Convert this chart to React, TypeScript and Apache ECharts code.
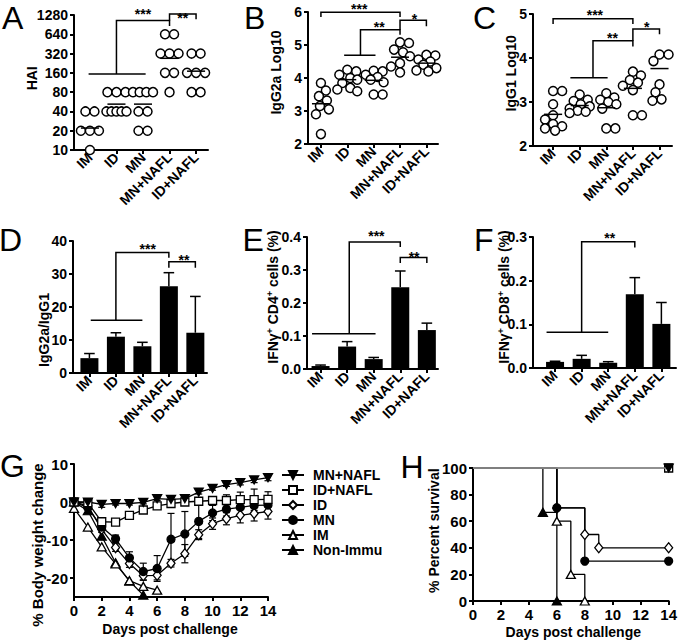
import React, { useEffect, useRef } from 'react';
import * as echarts from 'echarts';

const FONT = '"Liberation Sans", Arial, Helvetica, sans-serif';
const groups = ['IM', 'ID', 'MN', 'MN+NAFL', 'ID+NAFL'];

// ---------- Panel A: HAI titres ----------
const haiIM = [40, 40, 20, 20, 20, 10];
const haiID = [80, 80, 80, 40, 40, 40, 40, 40];
const haiMN = [80, 80, 80, 80, 40, 40, 20, 20];
const haiMNNAFL = [640, 640, 320, 320, 320, 160, 160, 80];
const haiIDNAFL = [320, 320, 160, 160, 160, 80, 80];
const haiMeans = [22, 52, 52, 270, 170];
const haiTicks = [10, 20, 40, 80, 160, 320, 640, 1280];

// ---------- Panel B: IgG2a log10 ----------
const igg2aIM = [3.85, 3.62, 3.45, 3.32, 3.15, 3.05, 2.9, 2.3];
const igg2aID = [4.25, 4.2, 4.1, 4.0, 3.95, 3.85, 3.7, 3.65, 3.6];
const igg2aMN = [4.22, 4.2, 4.1, 4.03, 3.95, 3.87, 3.5, 3.5];
const igg2aMNNAFL = [5.08, 5.06, 4.86, 4.78, 4.66, 4.45, 4.35, 4.17];
const igg2aIDNAFL = [4.7, 4.68, 4.56, 4.5, 4.4, 4.3, 4.23, 4.2];
const igg2aMeans = [3.22, 3.95, 3.93, 4.63, 4.45];

// ---------- Panel C: IgG1 log10 ----------
const igg1IM = [3.25, 3.25, 2.95, 2.7, 2.6, 2.5, 2.45, 2.4, 2.35];
const igg1ID = [3.17, 3.05, 3.02, 2.95, 2.9, 2.85, 2.8, 2.78, 2.75];
const igg1MN = [3.2, 3.1, 3.05, 3.0, 2.95, 2.85, 2.4, 2.4];
const igg1MNNAFL = [3.69, 3.6, 3.5, 3.44, 3.37, 3.27, 2.7, 2.7];
const igg1IDNAFL = [4.08, 4.08, 3.93, 3.4, 3.22, 3.06, 3.03];
const igg1Means = [2.72, 2.92, 2.87, 3.31, 3.76];

// ---------- Panel D: IgG2a/IgG1 ----------
const ratioMean = [4.5, 11, 8.1, 26.3, 12.2];
const ratioSem = [1.4, 1.2, 1.2, 4.1, 11];

// ---------- Panel E: IFNg+ CD4+ ----------
const cd4Mean = [0.009, 0.068, 0.03, 0.248, 0.118];
const cd4Sem = [0.003, 0.015, 0.005, 0.049, 0.021];

// ---------- Panel F: IFNg+ CD8+ ----------
const cd8Mean = [0.014, 0.021, 0.012, 0.169, 0.101];
const cd8Sem = [0.0015, 0.008, 0.0025, 0.038, 0.049];

// ---------- Panel G: body weight ----------
const gMNNAFL = [0, 0, -0.6, -0.4, -0.4, -0.1, 0.9, 0.7, 0.9, 2.6, 3.6, 4.6, 5.1, 5.8, 6.4];
const gMNNAFLerr = [0, 0.3, 0.8, 0.4, 0.4, 0.4, 0.5, 0.5, 0.5, 0.5, 0.5, 0.5, 0.6, 0.7, 0.8];
const gIDNAFL = [0, -0.2, -5.2, -5.3, -3.5, -2.1, -1.0, -0.4, 0, 0.2, 0.4, 0.4, 0.6, 0.6, 0.7];
const gIDNAFLerr = [0, 0.3, 0.6, 0.6, 0.6, 0.5, 0.5, 0.5, 0.5, 0.6, 0.8, 1.5, 2.0, 2.8, 2.0];
const gID = [0, -1.0, -7.2, -12.0, -16.2, -19.4, -19.3, -16.1, -13.6, -8.6, -5.7, -4.4, -3.5, -3.0, -2.5];
const gIDerr = [0, 0.5, 0.8, 1, 1, 1.2, 1.2, 1.0, 2.4, 1.3, 1.5, 1.6, 2.0, 2.0, 2.0];
const gMN = [0, -1.5, -6.6, -9.7, -14.7, -18.3, -17.5, -9.8, -8.4, -5.1, -2.9, -1.9, -1.4, -0.9, -0.8];
const gMNerr = [0, 0.5, 0.8, 1, 1.6, 2.2, 3.4, 6.8, 5.9, 4.5, 2.0, 1.8, 1.8, 1.8, 1.8];
const gIM = [-1.7, -6.6, -11.8, -16.3, -20.7, -22.2, -23.2];
const gNonImmu = [0, -2.3, -9.0, -16.0, -20.8, -24.5];

// ---------- Panel H: survival ----------
const hNonImmuDays = [0, 5, 6];
const hNonImmuPct = [100, 66.7, 0];
const hIMDays = [0, 6, 7, 8];
const hIMPct = [100, 60, 20, 0];
const hMNDays = [0, 6, 8, 14];
const hMNPct = [100, 70, 30, 30];
const hIDDays = [0, 6, 8, 9, 14];
const hIDPct = [100, 70, 50, 40, 40];
const hNAFLDays = [0, 14];
const hNAFLPct = [100, 100];

// ---------- annotations (category units, axis values) ----------
const bracketsA = [
  [[-0.05, 153], [2.1, 153]],
  [[1, 153], [1, 1050], [3, 1050], [3, 860]],
  [[3, 1050], [3, 1330], [4, 1330], [4, 1100]],
];
const starPosA = [[2.0, 1490], [3.5, 1280]];
const starTxtA = ['***', '**'];

const bracketsB = [
  [[0, 5.85], [0, 5.99], [3, 5.99], [3, 5.85]],
  [[0.88, 4.69], [2.07, 4.69]],
  [[1.5, 4.69], [1.5, 5.46], [3, 5.46], [3, 5.31]],
  [[3, 5.46], [3, 5.75], [4, 5.75], [4, 5.57]],
];
const starPosB = [[1.45, 6.17], [2.21, 5.63], [3.55, 5.89]];
const starTxtB = ['***', '**', '*'];

const bracketsC = [
  [[0, 4.77], [0, 4.89], [3, 4.89], [3, 4.77]],
  [[0.65, 3.55], [2.05, 3.55]],
  [[1.5, 3.55], [1.5, 4.39], [3, 4.39], [3, 4.26]],
  [[3, 4.39], [3, 4.66], [4, 4.66], [4, 4.54]],
];
const starPosC = [[1.57, 5.05], [2.23, 4.52], [3.52, 4.78]];
const starTxtC = ['***', '**', '*'];

const bracketsD = [
  [[0.05, 16], [2.0, 16]],
  [[1, 16], [1, 36.5], [3, 36.5], [3, 34.9]],
  [[3, 31.9], [3, 33.7], [4, 33.7], [4, 31.9]],
];
const starPosD = [[2.2, 38.6], [3.57, 35.3]];
const starTxtD = ['***', '**'];

const bracketsE = [
  [[-0.32, 0.107], [2.07, 0.107]],
  [[1.08, 0.107], [1.08, 0.385], [3, 0.385], [3, 0.37]],
  [[3, 0.321], [3, 0.338], [4, 0.338], [4, 0.321]],
];
const starPosE = [[2.1, 0.412], [3.52, 0.35]];
const starTxtE = ['***', '**'];

const bracketsF = [
  [[-0.32, 0.082], [2.0, 0.082]],
  [[1, 0.082], [1, 0.289], [3, 0.289], [3, 0.276]],
];
const starPosF = [[2.06, 0.305]];
const starTxtF = ['**'];

// ---------- layout ----------
const BAND = 26.5;
const STAR_SHIFT = 3; // asterisks sit high in the em box
const LAYOUT = [
  { left: 74, top: 15, width: 134, height: 135, xmin: -0.6, xmax: 4.45, ymin: 0, ymax: 7 },
  { left: 308, top: 12, width: 130, height: 132, xmin: -0.49, xmax: 4.44, ymin: 2, ymax: 6 },
  { left: 533, top: 14, width: 139, height: 132, xmin: -0.755, xmax: 4.47, ymin: 2, ymax: 5 },
  { left: 73, top: 241, width: 134, height: 132, xmin: -0.62, xmax: 4.44, ymin: 0, ymax: 40 },
  { left: 307, top: 237, width: 131, height: 132, xmin: -0.51, xmax: 4.42, ymin: 0, ymax: 0.4 },
  { left: 533, top: 237, width: 143, height: 131, xmin: -0.83, xmax: 4.55, ymin: 0, ymax: 0.3 },
  { left: 74, top: 464, width: 194, height: 133, xmin: 0, xmax: 14, ymin: -25, ymax: 10 },
  { left: 473, top: 468, width: 197, height: 133, xmin: 0, xmax: 14, ymin: 0, ymax: 100 },
];

const lineStyleAxis = { color: '#000', width: 2 };
const labelStyle = { color: '#000', fontFamily: FONT, fontWeight: 'bold' as const, fontSize: 14 };
const log2t = (v: number) => Math.log2(v / 10);
const ident = (v: number) => v;

// pixel position of a data point; values above the axis top are extrapolated linearly
function toPx(api: any, q: number[], p: number) {
  const { ymin, ymax } = LAYOUT[p];
  if (q[1] <= ymax) return api.coord(q);
  const top = api.coord([q[0], ymax]);
  const bot = api.coord([q[0], ymin]);
  const ppu = (bot[1] - top[1]) / (ymax - ymin);
  return [top[0], top[1] - (q[1] - ymax) * ppu];
}

function catAxis(p: number) {
  const l = LAYOUT[p];
  return {
    type: 'value', gridIndex: p, min: l.xmin, max: l.xmax,
    axisLine: { show: true, onZero: false, lineStyle: lineStyleAxis },
    axisTick: { show: true, length: 4, lineStyle: { width: 2, color: '#000' }, customValues: [0, 1, 2, 3, 4] },
    axisLabel: {
      show: true, customValues: [0, 1, 2, 3, 4], rotate: 45, margin: 5, ...labelStyle,
      formatter: (v: number) => groups[Math.round(v)] ?? '',
    },
    splitLine: { show: false },
  };
}
function numAxis(p: number, min: number, max: number, interval?: number, formatter?: any, custom?: number[], fs = 14) {
  const ax: any = {
    type: 'value', gridIndex: p, min, max,
    axisLine: { show: true, onZero: false, lineStyle: lineStyleAxis },
    axisTick: { show: true, length: 4, lineStyle: { width: 2, color: '#000' } },
    axisLabel: { show: true, margin: 6, ...labelStyle, fontSize: fs },
    splitLine: { show: false },
  };
  if (interval !== undefined) ax.interval = interval;
  if (formatter) ax.axisLabel.formatter = formatter;
  if (custom) { ax.axisLabel.customValues = custom; ax.axisTick.customValues = custom; }
  return ax;
}

function spreadDiscrete(vals: number[]) {
  const off = vals.map(() => 0);
  const byVal = new Map<number, number[]>();
  vals.forEach((v, i) => { if (!byVal.has(v)) byVal.set(v, []); byVal.get(v)!.push(i); });
  byVal.forEach((idx) => {
    const n = idx.length;
    const step = n > 1 ? Math.min(9, 20 / (n - 1)) : 0;
    idx.forEach((i, k) => { off[i] = (k - (n - 1) / 2) * step; });
  });
  return off;
}
function swarm(vals: number[], pxPerY: number) {
  const order = vals.map((_, i) => i).sort((a, b) => vals[b] - vals[a]);
  const off = vals.map(() => 0);
  const placed: number[][] = [];
  order.forEach((i, k) => {
    const y = vals[i] * pxPerY;
    let best = 0, bestCost = Infinity;
    const sign = k % 2 === 0 ? 1 : -1;
    for (let s = 0; s <= 20; s++) {
      const c = (s % 2 === 0 ? 1 : -1) * sign * Math.ceil(s / 2);
      if (Math.abs(c) > 10) continue;
      let cost = Math.abs(c) * 0.03;
      for (const q of placed) {
        const d = Math.hypot(c - q[0], y - q[1]);
        if (d < 9) cost += (9 - d) * (9 - d);
      }
      if (cost < bestCost - 1e-9) { bestCost = cost; best = c; }
    }
    off[i] = best; placed.push([best, y]);
  });
  return off;
}

function scatterSeries(p: number, byGroup: number[][], pxPerY: number, tf: (v: number) => number, discrete: boolean) {
  const data: number[][] = [];
  byGroup.forEach((vals, g) => {
    const offs = discrete ? spreadDiscrete(vals) : swarm(vals.map(tf), pxPerY);
    vals.forEach((v, i) => data.push([g + offs[i] / BAND, tf(v)]));
  });
  return {
    type: 'scatter', xAxisIndex: p, yAxisIndex: p, data, symbol: 'circle', symbolSize: 9,
    itemStyle: { color: '#fff', borderColor: '#000', borderWidth: 1.5, opacity: 1 }, z: 3, clip: false, silent: true,
  };
}
function meanSeries(p: number, means: number[], tf: (v: number) => number) {
  return {
    type: 'custom', xAxisIndex: p, yAxisIndex: p, data: means.map((m, g) => [g, tf(m)]), z: 4, silent: true,
    renderItem: (_: any, api: any) => {
      const x = api.value(0), y = api.value(1);
      const a = api.coord([x - 0.34, y]), b = api.coord([x + 0.34, y]);
      return { type: 'line', shape: { x1: a[0], y1: a[1], x2: b[0], y2: b[1] }, style: { stroke: '#000', lineWidth: 1.5 } };
    },
  };
}
function bracketSeries(p: number, brackets: number[][][], tf: (v: number) => number) {
  const ymax = LAYOUT[p].ymax;
  const pts = brackets.map((b) => b.map((q) => [q[0], tf(q[1])]));
  return {
    type: 'custom', xAxisIndex: p, yAxisIndex: p, data: pts.map((b) => [b[0][0], Math.min(b[0][1], ymax)]),
    silent: true, z: 5, clip: false,
    renderItem: (params: any, api: any) => ({
      type: 'polyline',
      shape: { points: pts[params.dataIndex].map((q) => toPx(api, q, p)) },
      style: { stroke: '#000', lineWidth: 1.5, fill: 'none' },
    }),
  };
}
function starSeries(p: number, pos: number[][], txt: string[], tf: (v: number) => number) {
  const ymax = LAYOUT[p].ymax;
  const pts = pos.map((q) => [q[0], tf(q[1])]);
  return {
    type: 'custom', xAxisIndex: p, yAxisIndex: p, data: pts.map((q) => [q[0], Math.min(q[1], ymax)]),
    silent: true, z: 5, clip: false,
    renderItem: (params: any, api: any) => {
      const c = toPx(api, pts[params.dataIndex], p);
      return {
        type: 'text', x: c[0], y: c[1] + STAR_SHIFT,
        style: {
          text: txt[params.dataIndex], font: `bold 14px ${FONT}`, fill: '#000',
          align: 'center', verticalAlign: 'middle',
        },
      };
    },
  };
}
function barSeries(p: number, means: number[]) {
  return {
    type: 'bar', xAxisIndex: p, yAxisIndex: p, data: means.map((m, g) => [g, m]), barWidth: 18,
    itemStyle: { color: '#000' }, silent: true, z: 2,
  };
}
function errUpSeries(p: number, means: number[], sem: number[]) {
  return {
    type: 'custom', xAxisIndex: p, yAxisIndex: p, data: means.map((m, g) => [g, m, sem[g]]), silent: true, z: 3,
    renderItem: (_: any, api: any) => {
      const x = api.value(0), m = api.value(1), e = api.value(2);
      const b = api.coord([x, m]), t = api.coord([x, m + e]);
      const l = api.coord([x - 0.2, m + e]), r = api.coord([x + 0.2, m + e]);
      const st = { stroke: '#000', lineWidth: 1.5 };
      return {
        type: 'group', children: [
          { type: 'line', shape: { x1: b[0], y1: b[1], x2: t[0], y2: t[1] }, style: st },
          { type: 'line', shape: { x1: l[0], y1: l[1], x2: r[0], y2: r[1] }, style: st },
        ],
      };
    },
  };
}
function errSymSeries(p: number, vals: number[], err: number[]) {
  const data = vals.map((v, d) => [d, v, err[d] ?? 0]).filter((q) => q[2] > 0);
  return {
    type: 'custom', xAxisIndex: p, yAxisIndex: p, data, silent: true, z: 2, clip: false,
    renderItem: (_: any, api: any) => {
      const x = api.value(0), v = api.value(1), e = api.value(2);
      const t = api.coord([x, v + e]), b = api.coord([x, v - e]);
      const st = { stroke: '#000', lineWidth: 1.2 };
      const w = 3.5;
      return {
        type: 'group', children: [
          { type: 'line', shape: { x1: t[0], y1: t[1], x2: b[0], y2: b[1] }, style: st },
          { type: 'line', shape: { x1: t[0] - w, y1: t[1], x2: t[0] + w, y2: t[1] }, style: st },
          { type: 'line', shape: { x1: b[0] - w, y1: b[1], x2: b[0] + w, y2: b[1] }, style: st },
        ],
      };
    },
  };
}

const DOWN_TRI = 'path://M0,0L10,0L5,9Z';
const SYM: Record<string, { symbol: string; size: number | number[]; fill: string }> = {
  'MN+NAFL': { symbol: DOWN_TRI, size: [9, 8], fill: '#000' },
  'ID+NAFL': { symbol: 'rect', size: 8, fill: '#fff' },
  ID: { symbol: 'diamond', size: [8, 10], fill: '#fff' },
  MN: { symbol: 'circle', size: 8, fill: '#000' },
  IM: { symbol: 'triangle', size: [9, 8], fill: '#fff' },
  'Non-Immu': { symbol: 'triangle', size: [9, 8], fill: '#000' },
};

function gLine(name: string, vals: number[]) {
  const s = SYM[name];
  return {
    type: 'line', name, xAxisIndex: 6, yAxisIndex: 6, data: vals.map((v, d) => [d, v]),
    symbol: s.symbol, symbolSize: s.size, showSymbol: true,
    itemStyle: { color: s.fill, borderColor: '#000', borderWidth: 1.3 },
    lineStyle: { color: '#000', width: 1.3 }, clip: false, z: 3, silent: true,
  };
}
function hLine(key: string, days: number[], pct: number[], color = '#000', z = 3, endOnly = false) {
  const s = SYM[key];
  return {
    type: 'line', name: 'h-' + key, xAxisIndex: 7, yAxisIndex: 7, step: 'end',
    data: days.map((d, i) => (i === 0 || (endOnly && i < days.length - 1) ? { value: [d, pct[i]], symbol: 'none' } : [d, pct[i]])),
    symbol: s.symbol, symbolSize: s.size, showSymbol: true,
    itemStyle: { color: s.fill, borderColor: '#000', borderWidth: 1.3 },
    lineStyle: { color, width: 1.3 }, clip: false, z, silent: true,
  };
}

function vText(text: string, x: number, y: number, size = 14, rich?: any) {
  return {
    type: 'text', x, y, rotation: Math.PI / 2,
    style: {
      text, font: `bold ${size}px ${FONT}`, fill: '#000', rich,
      align: 'center', verticalAlign: 'middle', textAlign: 'center', textVerticalAlign: 'middle',
    },
  };
}
function hText(text: string, x: number, y: number, size = 14) {
  return {
    type: 'text', x, y,
    style: {
      text, font: `bold ${size}px ${FONT}`, fill: '#000',
      align: 'center', verticalAlign: 'middle', textAlign: 'center', textVerticalAlign: 'middle',
    },
  };
}
function letter(t: string, x: number, y: number) {
  return {
    type: 'text', x, y,
    style: {
      text: t, font: `32px ${FONT}`, fill: '#000',
      align: 'left', verticalAlign: 'middle', textAlign: 'left', textVerticalAlign: 'middle',
    },
  };
}
const supRich = {
  a: { fontSize: 14, fontWeight: 'bold', fontFamily: FONT, fill: '#000', lineHeight: 16 },
  b: { fontSize: 9, fontWeight: 'bold', fontFamily: FONT, fill: '#000', verticalAlign: 'top', lineHeight: 16 },
};

function buildOption() {
  const grid = LAYOUT.map((l) => ({ left: l.left, top: l.top, width: l.width, height: l.height, containLabel: false }));
  const xAxis: any[] = [0, 1, 2, 3, 4, 5].map(catAxis);
  xAxis.push(numAxis(6, 0, 14, 2, undefined, undefined, 15));
  xAxis.push(numAxis(7, 0, 14, 2, undefined, undefined, 15));
  const yAxis: any[] = [
    numAxis(0, 0, 7, 1, (v: number) => String(haiTicks[Math.round(v)])),
    numAxis(1, 2, 6, 1),
    numAxis(2, 2, 5, 1),
    numAxis(3, 0, 40, 10),
    numAxis(4, 0, 0.4, 0.1, (v: number) => v.toFixed(1)),
    numAxis(5, 0, 0.3, 0.1, (v: number) => v.toFixed(1)),
    numAxis(6, -25, 10, undefined, undefined, [-20, -10, 0, 10], 15),
    numAxis(7, 0, 100, 20, undefined, undefined, 15),
  ];

  const series: any[] = [
    scatterSeries(0, [haiIM, haiID, haiMN, haiMNNAFL, haiIDNAFL], 135 / 7, log2t, true),
    meanSeries(0, haiMeans, log2t),
    bracketSeries(0, bracketsA, log2t),
    starSeries(0, starPosA, starTxtA, log2t),

    scatterSeries(1, [igg2aIM, igg2aID, igg2aMN, igg2aMNNAFL, igg2aIDNAFL], 33, ident, false),
    meanSeries(1, igg2aMeans, ident),
    bracketSeries(1, bracketsB, ident),
    starSeries(1, starPosB, starTxtB, ident),

    scatterSeries(2, [igg1IM, igg1ID, igg1MN, igg1MNNAFL, igg1IDNAFL], 44, ident, false),
    meanSeries(2, igg1Means, ident),
    bracketSeries(2, bracketsC, ident),
    starSeries(2, starPosC, starTxtC, ident),

    barSeries(3, ratioMean), errUpSeries(3, ratioMean, ratioSem),
    bracketSeries(3, bracketsD, ident), starSeries(3, starPosD, starTxtD, ident),

    barSeries(4, cd4Mean), errUpSeries(4, cd4Mean, cd4Sem),
    bracketSeries(4, bracketsE, ident), starSeries(4, starPosE, starTxtE, ident),

    barSeries(5, cd8Mean), errUpSeries(5, cd8Mean, cd8Sem),
    bracketSeries(5, bracketsF, ident), starSeries(5, starPosF, starTxtF, ident),

    errSymSeries(6, gMNNAFL, gMNNAFLerr),
    errSymSeries(6, gIDNAFL, gIDNAFLerr),
    errSymSeries(6, gID, gIDerr),
    errSymSeries(6, gMN, gMNerr),
    gLine('Non-Immu', gNonImmu),
    gLine('IM', gIM),
    gLine('ID', gID),
    gLine('MN', gMN),
    gLine('ID+NAFL', gIDNAFL),
    gLine('MN+NAFL', gMNNAFL),

    hLine('Non-Immu', hNonImmuDays, hNonImmuPct),
    hLine('IM', hIMDays, hIMPct),
    hLine('ID', hIDDays, hIDPct),
    hLine('MN', hMNDays, hMNPct),
    hLine('ID+NAFL', hNAFLDays, hNAFLPct, '#888', 6, true),
    hLine('MN+NAFL', hNAFLDays, hNAFLPct, '#888', 7, true),
  ];

  const graphic: any[] = [
    letter('A', 2, 18), letter('B', 244, 18), letter('C', 473, 18),
    letter('D', -1, 240), letter('E', 242.5, 240), letter('F', 474, 240),
    letter('G', 0, 465.5), letter('H', 400.5, 466.5),
    vText('HAI', 31.7, 78.3),
    vText('IgG2a Log10', 275.5, 72.5),
    vText('IgG1 Log10', 511.3, 73.3),
    vText('IgG2a/IgG1', 44, 330),
    vText('{a|IFNγ}{b|+}{a| CD4}{b|+}{a| cells (%)}', 273, 297, 14, supRich),
    vText('{a|IFNγ}{b|+}{a| CD8}{b|+}{a| cells (%)}', 504, 297, 14, supRich),
    vText('% Body weight change', 37.5, 545, 15),
    vText('% Percent survival', 434, 530.7),
    hText('Days post challenge', 170, 629.3),
    hText('Days post challenge', 573.3, 631.7),
  ];

  return {
    animation: false,
    backgroundColor: '#fff',
    grid, xAxis, yAxis, series, graphic,
    legend: {
      data: ['MN+NAFL', 'ID+NAFL', 'ID', 'MN', 'IM', 'Non-Immu'],
      orient: 'vertical', left: 276, top: 463, itemWidth: 22, itemHeight: 10, itemGap: 1,
      selectedMode: false,
      textStyle: { ...labelStyle, lineHeight: 12, padding: [0, 0, 0, 4] },
    },
  };
}

export default function App() {
  const ref = useRef<HTMLDivElement>(null);
  useEffect(() => {
    if (!ref.current) return;
    const chart = echarts.init(ref.current, null, { renderer: 'svg' });
    chart.setOption(buildOption() as any);
    return () => chart.dispose();
  }, []);
  return (
    <div
      ref={ref}
      style={{ position: 'absolute', left: 0, top: 0, width: 680, height: 641, background: '#fff' }}
    />
  );
}
